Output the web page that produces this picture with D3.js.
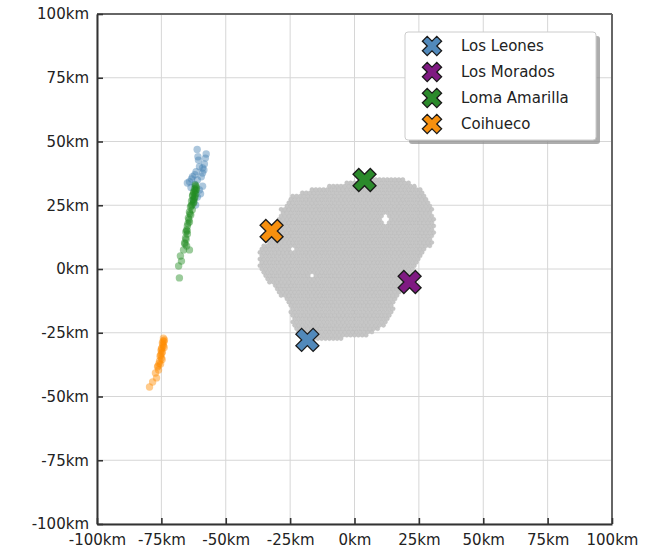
<!DOCTYPE html>
<html>
<head>
<meta charset="utf-8">
<script src="https://cdn.jsdelivr.net/npm/d3@7"></script>
<style>
  html, body { margin: 0; padding: 0; background: #fff; }
  svg { display: block; font-family: "DejaVu Sans", sans-serif; }
</style>
</head>
<body>
<svg id="chart" width="649" height="551"></svg>
<script>
// Fluorescence-detector sites (km)
const siteNames  = ["Los Leones", "Los Morados", "Loma Amarilla", "Coihueco"];
const siteX      = [-18.3, 21.4, 3.9, -32.2];
const siteY      = [-27.8, -5.1, 34.9, 14.9];
const siteColors = ["#5189bb", "#7f1a82", "#2b8a2b", "#f7900f"];

// Reconstructed positions seen from each site (km)
const leonesX = [-61.1, -57.6, -60.6, -58.3, -60.2, -61.5, -59.0, -62.9, -64.1, -61.0, -59.5, -64.9, -62.1, -57.9, -59.0, -63.3, -60.2, -61.0, -61.7, -62.5, -59.0, -58.5, -60.8, -63.5, -62.0, -59.8];
const leonesY = [46.9, 45.1, 42.7, 41.2, 40.1, 38.2, 37.6, 36.2, 34.2, 34.9, 36.2, 33.7, 33.3, 43.5, 39.6, 35.3, 31.0, 28.2, 25.1, 27.1, 32.5, 38.8, 44.0, 32.0, 37.0, 29.5];

const lomaX = [-61.7, -62.1, -62.5, -61.7, -62.9, -62.1, -63.3, -62.5, -63.7, -64.1, -64.5, -64.1, -64.9, -65.2, -64.9, -65.6, -66.0, -65.2, -66.4, -67.6, -67.2, -68.3, -68.0, -64.1,
               -61.5, -62.8, -63.0, -63.6, -65.5, -61.9, -62.3, -62.7, -61.4, -62.0, -63.1, -63.4, -63.9, -64.3, -64.7, -65.0, -65.4, -65.8, -62.4, -61.8];
const lomaY = [32.5, 31.4, 30.2, 29.4, 28.6, 27.8, 26.7, 25.9, 24.3, 22.4, 20.0, 18.4, 16.9, 15.3, 13.7, 12.2, 10.2, 9.0, 7.5, 5.1, 3.1, 1.2, -3.5, 7.5,
               31.0, 29.0, 23.2, 21.2, 14.5, 30.8, 29.8, 27.2, 31.8, 28.3, 25.2, 24.8, 21.7, 19.3, 17.8, 14.9, 11.6, 9.8, 26.4, 33.0];

const coihuecoX = [-73.8, -74.6, -74.2, -75.0, -74.6, -75.3, -75.0, -75.7, -75.3, -76.5, -76.1, -77.3, -76.9, -78.4, -79.6, -74.2, -73.9, -74.9,
                   -74.0, -74.4, -74.8, -75.1, -75.5, -74.3, -74.7, -75.9, -76.3];
const coihuecoY = [-27.8, -29.0, -30.2, -31.4, -32.5, -33.7, -34.9, -36.1, -37.3, -38.4, -39.6, -40.8, -42.7, -44.3, -46.3, -27.1, -30.8, -33.0,
                   -28.5, -29.6, -31.0, -32.0, -34.2, -28.2, -35.5, -37.0, -38.0];

// Surface-detector array outline (km) and empty station slots
const arrayOutline = [
  [-28.3, 23.9], [-24.1, 29.0], [-18.3, 31.0], [-8.0, 33.0], [-1.9, 34.1], [8.5, 35.7], [13.6, 36.1],
  [20.2, 34.9], [26.4, 31.0], [29.9, 25.9], [31.1, 20.4], [31.1, 12.5], [29.1, 8.6],
  [25.2, 3.5], [22.5, -1.6], [18.6, -7.1], [16.3, -12.2], [14.8, -17.3], [10.9, -22.7],
  [5.8, -25.9], [-1.9, -27.1], [-9.7, -27.8], [-15.5, -28.6], [-21.4, -25.9], [-24.1, -21.2],
  [-26.0, -13.3], [-31.8, -7.1], [-36.9, 0.8], [-37.7, 6.7], [-34.2, 10.6], [-29.1, 22.4]
];
const emptySlots = [[12.3, 19.5], [-24.1, 7.5], [-23.3, -0.4], [-16.3, -3.1]];
const emptyRadius = [1.4, 0.6, 0.6, 0.6];
const stationSpacing = 1.5;

const tickValues = [-100, -75, -50, -25, 0, 25, 50, 75, 100];

const margin = { left: 97, top: 14, right: 37, bottom: 27 };
const W = 649, H = 551;
const svg = d3.select("#chart");

const x = d3.scaleLinear().domain([-100, 100]).range([margin.left, W - margin.right]);
const y = d3.scaleLinear().domain([-100, 100]).range([H - margin.bottom, margin.top]);

// Grid
const grid = svg.append("g");
grid.selectAll("line.vx").data(tickValues).join("line")
  .attr("x1", d => x(d)).attr("x2", d => x(d))
  .attr("y1", y(-100)).attr("y2", y(100))
  .attr("stroke", "#d6d6d6").attr("stroke-width", 1);
grid.selectAll("line.hy").data(tickValues).join("line")
  .attr("y1", d => y(d)).attr("y2", d => y(d))
  .attr("x1", x(-100)).attr("x2", x(100))
  .attr("stroke", "#d6d6d6").attr("stroke-width", 1);

// Station grid: triangular lattice clipped to the array outline
const stations = [];
const rowStep = stationSpacing * Math.sqrt(3) / 2;
for (let r = -40; r <= 40; r++) {
  const yy = r * rowStep;
  const off = (r & 1) ? stationSpacing / 2 : 0;
  for (let c = -40; c <= 40; c++) {
    const xx = c * stationSpacing + off;
    if (!d3.polygonContains(arrayOutline, [xx, yy])) continue;
    let empty = false;
    emptySlots.forEach((s, i) => {
      if (Math.hypot(xx - s[0], yy - s[1]) < emptyRadius[i]) empty = true;
    });
    if (!empty) stations.push([xx, yy]);
  }
}
svg.append("g").selectAll("circle").data(stations).join("circle")
  .attr("cx", d => x(d[0])).attr("cy", d => y(d[1]))
  .attr("r", 2.1)
  .attr("fill", "#c6c6c6")
  .attr("stroke", "#b6b6b6").attr("stroke-width", 0.4);

// Reconstructed positions
const clouds = [
  { xs: leonesX, ys: leonesY, color: "#4682b4" },
  { xs: lomaX, ys: lomaY, color: "#228b22" },
  { xs: coihuecoX, ys: coihuecoY, color: "#ff8c00" }
];
clouds.forEach(cl => {
  svg.append("g").selectAll("circle").data(cl.xs.map((v, i) => [v, cl.ys[i]])).join("circle")
    .attr("cx", d => x(d[0])).attr("cy", d => y(d[1]))
    .attr("r", 3.7)
    .attr("fill", cl.color).attr("fill-opacity", 0.45);
});

// Site markers (filled X)
const xMark = d3.symbol().type(d3.symbolCross).size(330);
const xMarkSmall = d3.symbol().type(d3.symbolCross).size(230);
svg.append("g").selectAll("path").data(siteNames).join("path")
  .attr("d", xMark)
  .attr("transform", (d, i) => `translate(${x(siteX[i])},${y(siteY[i])}) rotate(45)`)
  .attr("fill", (d, i) => siteColors[i])
  .attr("stroke", "#1a1a1a").attr("stroke-width", 1.3);

// Frame
const frame = svg.append("g");
frame.append("line").attr("x1", x(-100)).attr("x2", x(100)).attr("y1", y(100)).attr("y2", y(100))
  .attr("stroke", "#666").attr("stroke-width", 2);
frame.append("line").attr("x1", x(100)).attr("x2", x(100)).attr("y1", y(-100)).attr("y2", y(100))
  .attr("stroke", "#666").attr("stroke-width", 2);

// Axes with inward ticks
const fmt = d => d + "km";
const xAxis = svg.append("g").attr("transform", `translate(0,${y(-100)})`)
  .call(d3.axisBottom(x).tickValues(tickValues).tickFormat(fmt).tickSizeInner(-6).tickSizeOuter(0).tickPadding(12));
const yAxis = svg.append("g").attr("transform", `translate(${x(-100)},0)`)
  .call(d3.axisLeft(y).tickValues(tickValues).tickFormat(fmt).tickSizeInner(-6).tickSizeOuter(0).tickPadding(8));
[xAxis, yAxis].forEach(a => {
  a.select(".domain").attr("stroke", "#333").attr("stroke-width", 2);
  a.selectAll(".tick line").attr("stroke", "#333").attr("stroke-width", 1.6);
  a.selectAll(".tick text").attr("fill", "#222").style("font-size", "15px").style("font-family", "DejaVu Sans");
});
xAxis.selectAll(".tick text").attr("dy", "0.6em");

// Legend
const lg = svg.append("g").attr("transform", "translate(405,32)");
const lgW = 191, lgH = 108;
lg.append("rect").attr("x", 4).attr("y", 4).attr("width", lgW).attr("height", lgH).attr("rx", 3)
  .attr("fill", "#8a8a8a").attr("opacity", 0.7);
lg.append("rect").attr("width", lgW).attr("height", lgH).attr("rx", 3)
  .attr("fill", "#fff").attr("stroke", "#cccccc").attr("stroke-width", 1);
const items = lg.selectAll("g.item").data(siteNames).join("g")
  .attr("transform", (d, i) => `translate(0,${14 + i * 26})`);
items.append("path").attr("d", xMarkSmall)
  .attr("transform", "translate(27,0) rotate(45)")
  .attr("fill", (d, i) => siteColors[i])
  .attr("stroke", "#1a1a1a").attr("stroke-width", 1.3);
items.append("text").attr("x", 56).attr("y", 0).attr("dy", "0.35em")
  .attr("fill", "#222").style("font-size", "15px").text(d => d);
</script>
</body>
</html>
